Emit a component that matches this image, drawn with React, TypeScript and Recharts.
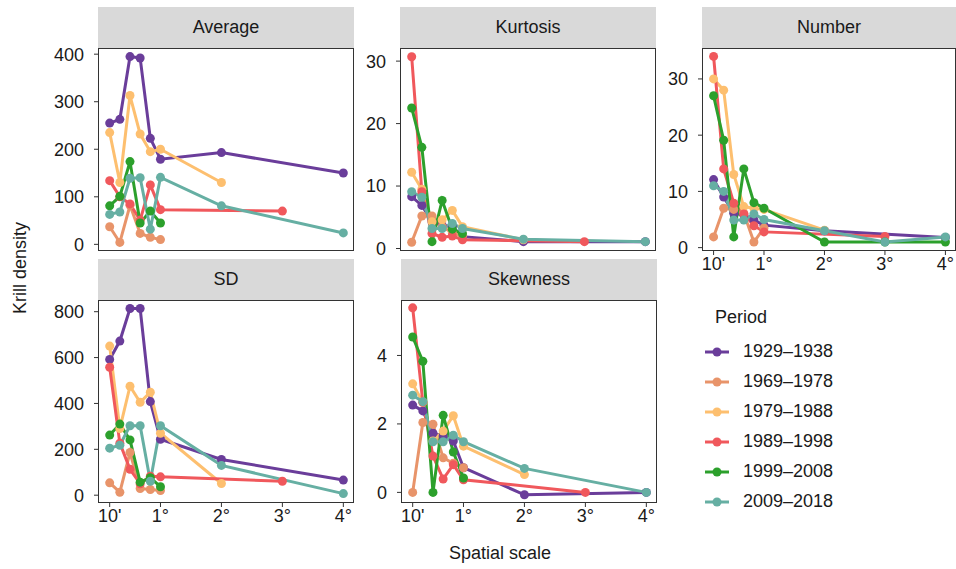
import React from 'react';
import { LineChart, Line, XAxis, YAxis } from 'recharts';

// spatial scale in degrees (10', 20', ... 50', 1°, 2°, 3°, 4°)
const SCALE_DEG = [1 / 6, 2 / 6, 3 / 6, 4 / 6, 5 / 6, 1, 2, 3, 4];
const X_TICKS = [1 / 6, 1, 2, 3, 4];

const PERIODS = ['1929–1938', '1969–1978', '1979–1988', '1989–1998', '1999–2008', '2009–2018'];
const COLORS = ['#6A3D9A', '#E8946A', '#FDBF6F', '#F0585C', '#2CA02C', '#66AFA3'];

const avg1929 = [255, 263, 395, 392, 223, 179, 193, null, 150];
const avg1969 = [37, 4, 82, 23, 15, 10, null, null, null];
const avg1979 = [235, 130, 313, 232, 195, 200, 130, null, null];
const avg1989 = [134, 100, 85, 51, 125, 73, null, 70, null];
const avg1999 = [81, 101, 174, 45, 70, 45, null, null, null];
const avg2009 = [63, 68, 139, 140, 32, 141, 81, null, 24];

const kurt1929 = [8.3, 6.9, 4.3, 3.7, 3.5, 1.9, 1.1, null, 1.1];
const kurt1969 = [1.0, 5.2, 5.2, 3.5, 2.5, 2.0, null, null, null];
const kurt1979 = [12.2, 9.5, 4.3, 4.6, 6.1, 3.5, 1.4, null, null];
const kurt1989 = [30.7, 9.1, 2.4, 1.8, 2.0, 1.4, null, 1.1, null];
const kurt1999 = [22.5, 16.2, 1.1, 7.7, 3.1, 2.4, null, null, null];
const kurt2009 = [9.1, 8.2, 3.2, 3.2, 4.0, 3.2, 1.5, null, 1.1];

const num1929 = [12.1, 9.0, 6.1, 5.8, 4.9, 4.0, 3.0, null, 1.8];
const num1969 = [1.9, 7.0, 6.8, 6.1, 1.0, 3.5, null, null, null];
const num1979 = [30, 28, 13, 7.3, 7.0, 6.8, 3.1, null, null];
const num1989 = [34, 14, 7.9, 6.0, 3.9, 2.8, null, 2.0, null];
const num1999 = [27, 19.1, 1.9, 14, 8, 7, 1, 1, 1];
const num2009 = [11, 10, 4.9, 4.9, 6.0, 5.0, 3.0, 1.0, 1.9];

const sd1929 = [592, 672, 814, 814, 408, 244, 156, null, 66];
const sd1969 = [54, 13, 186, 29, 25, 20, null, null, null];
const sd1979 = [650, 290, 475, 405, 449, 270, 51, null, null];
const sd1989 = [558, 227, 113, 50, 83, 80, null, 61, null];
const sd1999 = [262, 310, 241, 57, 76, 37, null, null, null];
const sd2009 = [205, 218, 303, 303, 61, 303, 130, null, 7];

const skew1929 = [2.55, 2.38, 1.73, 1.65, 1.5, 0.72, -0.07, null, 0];
const skew1969 = [0, 2.04, 1.99, 1.01, 0.85, 0.72, null, null, null];
const skew1979 = [3.17, 2.63, 1.5, 1.79, 2.24, 1.35, 0.52, null, null];
const skew1989 = [5.39, 2.63, 1.06, 0.39, 0.81, 0.37, null, 0, null];
const skew1999 = [4.54, 3.83, 0, 2.25, 1.18, 0.42, null, null, null];
const skew2009 = [2.84, 2.65, 1.48, 1.48, 1.67, 1.48, 0.7, null, 0];

type Series = (number | null)[];

function toRows(series: Series[]) {
  return SCALE_DEG.map((x, i) => {
    const row: { [k: string]: number | null } = { x };
    series.forEach((s, j) => {
      row['s' + j] = s[i];
    });
    return row;
  });
}

const FONT = '"Liberation Sans", Arial, sans-serif';
const FS = 18;
const TXT = '#1a1a1a';
const Y_AXIS_W = 80;
const X_AXIS_H = 34;
const PAD_TOP = 12;

function fmtX(v: number) {
  if (Math.abs(v - 1 / 6) < 0.01) return "10'";
  return `${v}°`;
}

interface PanelProps {
  title: string;
  left: number;
  top: number;
  width: number;
  height: number;
  series: Series[];
  yDomain: [number, number];
  yTicks: number[];
  showX: boolean;
}

function Panel({ title, left, top, width, height, series, yDomain, yTicks, showX }: PanelProps) {
  const rows = toRows(series);
  return (
    <>
      <div
        style={{
          position: 'absolute',
          left,
          top: top - 41,
          width,
          height: 41,
          background: '#d9d9d9',
          color: TXT,
          fontSize: FS,
          lineHeight: '41px',
          textAlign: 'center',
        }}
      >
        {title}
      </div>
      <div style={{ position: 'absolute', left: left - Y_AXIS_W, top: top - PAD_TOP }}>
        <LineChart
          width={width + Y_AXIS_W}
          height={height + X_AXIS_H + PAD_TOP}
          data={rows}
          margin={{ top: PAD_TOP, right: 0, bottom: 0, left: 0 }}
        >
          <XAxis
            dataKey="x"
            type="number"
            domain={[-0.025, 4.175]}
            allowDataOverflow
            ticks={X_TICKS}
            tickFormatter={fmtX}
            height={X_AXIS_H}
            axisLine={false}
            tick={showX ? { fill: TXT, fontSize: FS } : false}
            tickLine={showX ? { stroke: '#333' } : false}
            tickSize={4}
            tickMargin={2}
            interval={0}
          />
          <YAxis
            type="number"
            domain={yDomain}
            allowDataOverflow
            ticks={yTicks}
            width={Y_AXIS_W}
            axisLine={false}
            tick={{ fill: TXT, fontSize: FS }}
            tickLine={{ stroke: '#333' }}
            tickSize={4}
            tickMargin={10}
            interval={0}
          />
          {series.map((_, j) => (
            <Line
              key={j}
              dataKey={'s' + j}
              stroke={COLORS[j]}
              strokeWidth={3}
              connectNulls
              dot={{ r: 4.5, fill: COLORS[j], stroke: COLORS[j], strokeWidth: 0 }}
              activeDot={false}
              isAnimationActive={false}
            />
          ))}
        </LineChart>
      </div>
      <div
        style={{
          position: 'absolute',
          left,
          top,
          width,
          height,
          border: '1px solid #333',
          boxSizing: 'border-box',
          pointerEvents: 'none',
        }}
      />
    </>
  );
}

function Legend() {
  return (
    <div style={{ position: 'absolute', left: 705, top: 307 }}>
      <div style={{ fontSize: FS, color: TXT, marginLeft: 10, height: 30, whiteSpace: 'nowrap' }}>Period</div>
      {PERIODS.map((p, i) => (
        <div
          key={p}
          style={{ position: 'absolute', left: 0, top: 34 + i * 30, display: 'flex', alignItems: 'center' }}
        >
          <svg width={24} height={12}>
            <line x1={0} y1={6} x2={24} y2={6} stroke={COLORS[i]} strokeWidth={3} />
            <circle cx={12} cy={6} r={4.5} fill={COLORS[i]} />
          </svg>
          <span style={{ marginLeft: 14, fontSize: FS, color: TXT, whiteSpace: 'nowrap' }}>{p}</span>
        </div>
      ))}
    </div>
  );
}

export default function App() {
  return (
    <div
      style={{
        position: 'absolute',
        left: 0,
        top: 0,
        width: 956,
        height: 569,
        overflow: 'hidden',
        background: '#fff',
        fontFamily: FONT,
      }}
    >
      <Panel
        title="Average"
        left={98}
        top={48}
        width={256}
        height={203}
        series={[avg1929, avg1969, avg1979, avg1989, avg1999, avg2009]}
        yDomain={[-14, 413]}
        yTicks={[0, 100, 200, 300, 400]}
        showX={false}
      />
      <Panel
        title="Kurtosis"
        left={400}
        top={48}
        width={256}
        height={203}
        series={[kurt1929, kurt1969, kurt1979, kurt1989, kurt1999, kurt2009]}
        yDomain={[-0.4, 32.1]}
        yTicks={[0, 10, 20, 30]}
        showX={false}
      />
      <Panel
        title="Number"
        left={702}
        top={48}
        width={254}
        height={203}
        series={[num1929, num1969, num1979, num1989, num1999, num2009]}
        yDomain={[-0.6, 35.5]}
        yTicks={[0, 10, 20, 30]}
        showX={true}
      />
      <Panel
        title="SD"
        left={98}
        top={300}
        width={256}
        height={203}
        series={[sd1929, sd1969, sd1979, sd1989, sd1999, sd2009]}
        yDomain={[-34, 851]}
        yTicks={[0, 200, 400, 600, 800]}
        showX={true}
      />
      <Panel
        title="Skewness"
        left={401}
        top={300}
        width={256}
        height={203}
        series={[skew1929, skew1969, skew1979, skew1989, skew1999, skew2009]}
        yDomain={[-0.31, 5.62]}
        yTicks={[0, 2, 4]}
        showX={true}
      />
      <Legend />
      <div
        style={{
          position: 'absolute',
          left: 20,
          top: 268,
          transform: 'translate(-50%, -50%) rotate(-90deg)',
          fontSize: FS,
          color: TXT,
          whiteSpace: 'nowrap',
        }}
      >
        Krill density
      </div>
      <div
        style={{
          position: 'absolute',
          left: 500,
          top: 553,
          transform: 'translate(-50%, -50%)',
          fontSize: FS,
          color: TXT,
          whiteSpace: 'nowrap',
        }}
      >
        Spatial scale
      </div>
    </div>
  );
}
